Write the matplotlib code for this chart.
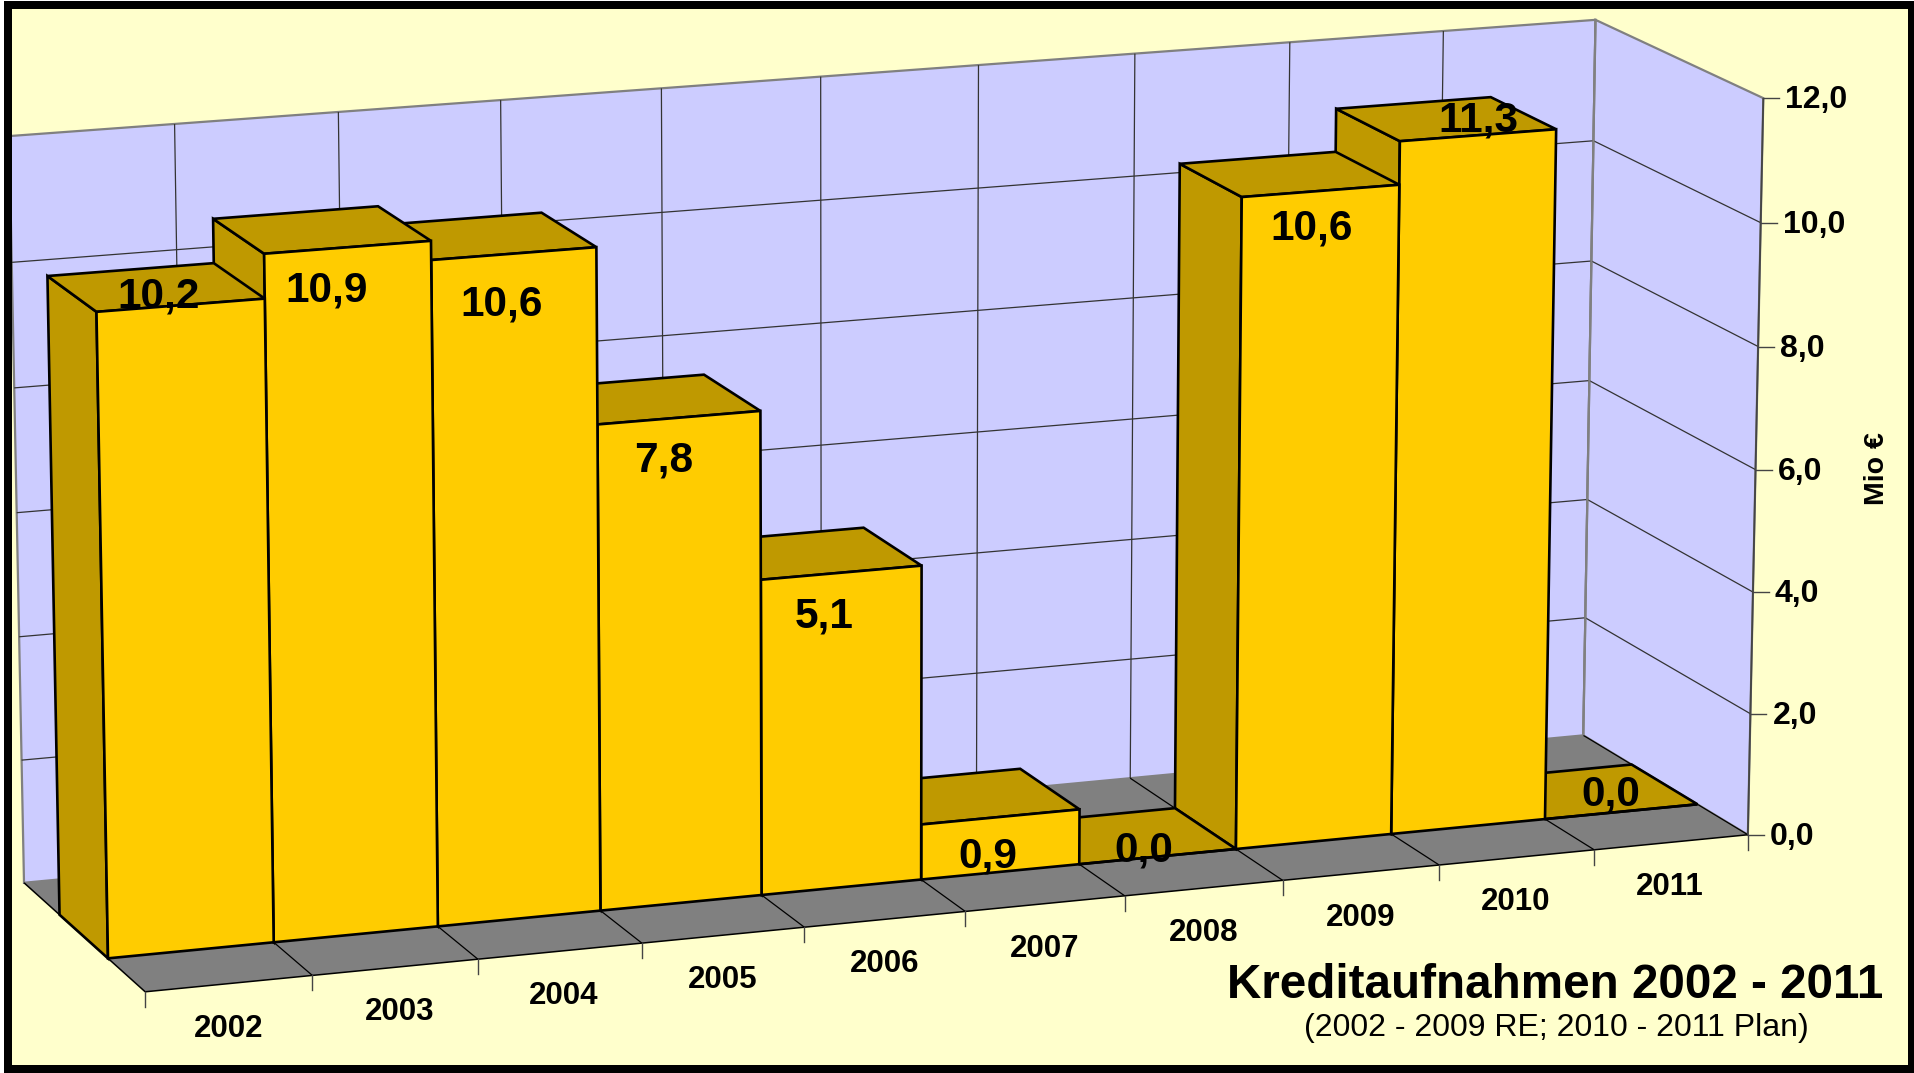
import numpy as np
import matplotlib
matplotlib.use("Agg")
import matplotlib.pyplot as plt
from matplotlib.patches import Polygon, Rectangle

YEARS = ["2002", "2003", "2004", "2005", "2006", "2007", "2008", "2009", "2010", "2011"]
VALUES = [10.2, 10.9, 10.6, 7.8, 5.1, 0.9, 0.0, 10.6, 11.3, 0.0]
Z_TICKS = [0, 2, 4, 6, 8, 10, 12]

WIDTH = 1915
HEIGHT = 1073

# where points of the chart box (category, depth, value) land in the image
BOX_3D = [(0, 0, 0), (10, 0, 0), (10, 1, 0), (0, 1, 0), (10, 1, 12), (10, 0, 12), (0, 1, 12),
          (1, 0, 0), (2, 0, 0), (5, 0, 0), (6, 0, 0), (7, 0, 0), (9, 0, 0),
          (1, 1, 12), (2, 1, 12)]
BOX_2D = [(145, 992), (1748, 835), (1583, 735), (24, 883), (1596, 20), (1763, 98), (10, 136),
          (312, 975), (478.5, 959.3), (965, 911), (1125, 895.7), (1283, 880.7), (1594, 850),
          (174, 124), (338, 112)]

BAR_FRONT = 0.30
BAR_BACK = 0.70

# data labels sit where they were dragged by hand in the original
LABEL_POS = [(159, 296), (327, 291), (502, 305), (664, 461), (824, 617),
             (988, 856), (1144, 850), (1312, 229), (1478, 121), (1611, 794)]
# same for the year labels, in pixels off the centre of their slot
YEAR_NUDGE = [0, 4, 4, -1, 0, -1, 0, 0, -1, -1]

BG = "#FFFFCC"
WALL = "#CCCCFF"
FLOOR = "#808080"
FRONT = "#FFCC00"
SIDE = "#BF9900"
FONT = "Liberation Sans"


def fit_camera(points, pixels):
    rows = []
    for (x, y, z), (u, v) in zip(points, pixels):
        rows.append([x, y, z, 1, 0, 0, 0, 0, -u * x, -u * y, -u * z, -u])
        rows.append([0, 0, 0, 0, x, y, z, 1, -v * x, -v * y, -v * z, -v])
    return np.linalg.svd(np.array(rows, dtype=float))[2][-1].reshape(3, 4)


CAMERA = fit_camera(BOX_3D, BOX_2D)


def proj(x, y, z):
    u, v, w = CAMERA @ np.array([x, y, z, 1.0])
    return u / w, v / w


def face(ax, corners, color, edge="black", lw=1.9, zorder=2):
    ax.add_patch(Polygon([proj(*c) for c in corners], closed=True, facecolor=color,
                         edgecolor=edge, linewidth=lw, joinstyle="miter", zorder=zorder))


def line(ax, a, b, color="#333333", lw=0.9, zorder=1):
    pa, pb = proj(*a), proj(*b)
    ax.plot([pa[0], pb[0]], [pa[1], pb[1]], color=color, lw=lw, zorder=zorder,
            solid_capstyle="butt")


def main():
    fig = plt.figure(figsize=(WIDTH / 100, HEIGHT / 100), dpi=100, facecolor="white")
    ax = fig.add_axes([0, 0, 1, 1])
    ax.set_xlim(0, WIDTH)
    ax.set_ylim(HEIGHT, 0)
    ax.axis("off")

    ax.add_patch(Rectangle((12, 8), 1896, 1057, facecolor=BG, edgecolor="none", zorder=0))

    # walls and floor
    nx = len(YEARS)
    top = Z_TICKS[-1]
    face(ax, [(0, 1, 0), (nx, 1, 0), (nx, 1, top), (0, 1, top)], WALL, edge=FLOOR, lw=1.6, zorder=0.5)
    face(ax, [(nx, 1, 0), (nx, 0, 0), (nx, 0, top), (nx, 1, top)], WALL, edge=FLOOR, lw=1.6, zorder=0.5)
    face(ax, [(0, 0, 0), (nx, 0, 0), (nx, 1, 0), (0, 1, 0)], FLOOR, edge="none", lw=0, zorder=0.6)

    # grid
    for i in range(1, nx):
        line(ax, (i, 1, 0), (i, 1, top))
    for z in Z_TICKS[1:-1]:
        line(ax, (0, 1, z), (nx, 1, z))
        line(ax, (nx, 1, z), (nx, 0, z))
    for i in range(1, nx + 1):
        line(ax, (i, 0, 0), (i, 1, 0), color="black")
    line(ax, (0, 0, 0), (nx, 0, 0), color="black", lw=1.1)
    line(ax, (0, 0, 0), (0, 1, 0), color="black", lw=1.1)
    line(ax, (nx, 1, 0), (nx, 1, top), color=FLOOR, lw=1.6)
    line(ax, (nx, 0, 0), (nx, 0, top), color="#444444", lw=1.3)

    # axis ticks and their labels
    for i in range(nx + 1):
        u, v = proj(i, 0, 0)
        ax.plot([u, u], [v, v + 15], color="#444444", lw=1.0, zorder=1)
    for i, year in enumerate(YEARS):
        u, v = proj(i + 0.5, 0, 0)
        ax.text(u + YEAR_NUDGE[i], v + 45, year, ha="center", va="center", fontsize=22.5,
                fontweight="bold", family=FONT)
    for z in Z_TICKS:
        u, v = proj(nx, 0, z)
        ax.plot([u, u + 16], [v, v], color="#444444", lw=1.0, zorder=1)
        ax.text(u + 22, v + 2, f"{z:.1f}".replace(".", ","), ha="left", va="center",
                fontsize=23, fontweight="bold", family=FONT)

    # bars, right to left because the view comes from the left
    for i in range(nx - 1, -1, -1):
        val = VALUES[i]
        f, b = BAR_FRONT, BAR_BACK
        face(ax, [(i, f, 0), (i, b, 0), (i, b, val), (i, f, val)], SIDE)
        face(ax, [(i, f, val), (i + 1, f, val), (i + 1, b, val), (i, b, val)], SIDE)
        face(ax, [(i, f, 0), (i + 1, f, 0), (i + 1, f, val), (i, f, val)], FRONT)

    for val, (u, v) in zip(VALUES, LABEL_POS):
        ax.text(u, v, f"{val:.1f}".replace(".", ","), ha="center", va="center",
                fontsize=30.5, fontweight="bold", family=FONT, zorder=5)

    ax.text(1883, 985, "Kreditaufnahmen 2002 - 2011", ha="right", va="center",
            fontsize=34.3, fontweight="bold", family=FONT, zorder=5)
    ax.text(1809, 1028, "(2002 - 2009 RE; 2010 - 2011 Plan)", ha="right", va="center",
            fontsize=23, family=FONT, zorder=5)
    ax.text(1877, 469, "Mio €", ha="center", va="center", rotation=90,
            fontsize=20.5, fontweight="bold", family=FONT, zorder=5)

    # frame goes on last, the walls run under it on the left
    ax.add_patch(Rectangle((4, 1), 1911, 8, facecolor="black", edgecolor="none", zorder=6))
    ax.add_patch(Rectangle((4, 1065), 1911, 8, facecolor="black", edgecolor="none", zorder=6))
    ax.add_patch(Rectangle((4, 1), 8, 1072, facecolor="black", edgecolor="none", zorder=6))
    ax.add_patch(Rectangle((1908, 1), 7, 1072, facecolor="black", edgecolor="none", zorder=6))

    fig.savefig("out.png", dpi=100, facecolor="white")


if __name__ == "__main__":
    main()
